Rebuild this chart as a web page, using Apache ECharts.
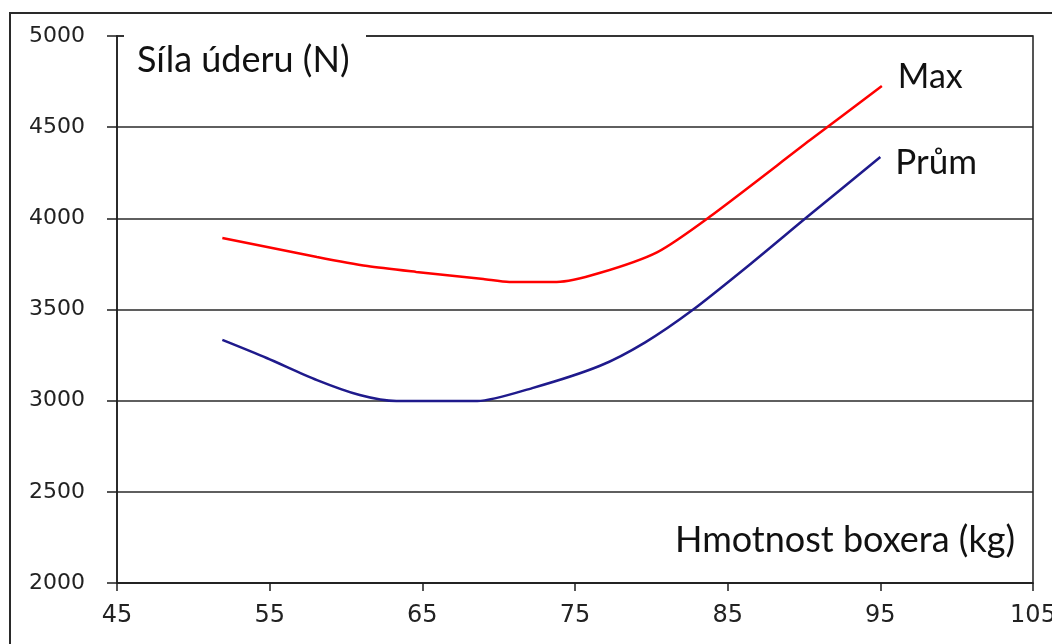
<!DOCTYPE html>
<html>
<head>
<meta charset="utf-8">
<script src="https://cdn.jsdelivr.net/npm/echarts@6/dist/echarts.min.js"></script>
<style>
  html, body { margin: 0; padding: 0; background: #fff; }
  #chart { width: 1052px; height: 644px; }
</style>
</head>
<body>
<div id="chart"></div>
<script>
// Punch force by boxer weight: maximum and average curves
const maxWeight = [51.9, 58.1, 61.4, 64.6, 69.0, 70.7, 73.8, 76.6, 80.4, 83.8, 90.4, 95.1];
const maxForce  = [3892, 3788, 3738, 3706, 3667, 3651, 3651, 3700, 3815, 4007, 4429, 4726];

const avgWeight = [51.9, 54.8, 58.1, 60.9, 63.3, 68.6, 72.2, 76.6, 79.6, 82.7, 86.5, 90.2, 95.0];
const avgForce  = [3333, 3234, 3113, 3031, 2998, 2998, 3069, 3190, 3320, 3497, 3750, 4007, 4336];

const xTicks = [45, 55, 65, 75, 85, 95, 105];
const yTicks = [2000, 2500, 3000, 3500, 4000, 4500, 5000];

const yTitle = 'Síla úderu (N)';
const xTitle = 'Hmotnost boxera (kg)';
const maxName = 'Max';
const avgName = 'Prům';

const pairs = (xs, ys) => xs.map((x, i) => [x, ys[i]]);

const chart = echarts.init(document.getElementById('chart'));

const labelFont = '"Lato", "Open Sans", sans-serif';

chart.setOption({
  animation: false,
  backgroundColor: '#ffffff',
  grid: {
    left: 117, right: 19, top: 36, bottom: 61,
    outerBoundsMode: 'none',
    containLabel: false,
    show: true,
    borderColor: '#1e1e1e',
    borderWidth: 1.5,
    backgroundColor: 'transparent'
  },
  xAxis: {
    type: 'value',
    min: xTicks[0],
    max: xTicks[xTicks.length - 1],
    interval: 10,
    axisLine: { show: true, onZero: false, lineStyle: { color: '#1e1e1e', width: 1.5 } },
    axisTick: { show: true, length: 8, lineStyle: { color: '#1e1e1e', width: 1.5 } },
    splitLine: { show: false },
    axisLabel: {
      margin: 21,
      color: '#222',
      fontSize: 24,
      fontFamily: '"DejaVu Sans", sans-serif',
      formatter: v => String(v),
      showMaxLabel: true,
      showMinLabel: true
    }
  },
  yAxis: {
    type: 'value',
    min: yTicks[0],
    max: yTicks[yTicks.length - 1],
    interval: 500,
    axisLine: { show: true, lineStyle: { color: '#1e1e1e', width: 1.5 } },
    axisTick: { show: true, length: 10, lineStyle: { color: '#1e1e1e', width: 1.5 } },
    splitLine: { show: true, lineStyle: { color: '#2a2a2a', width: 1.5 } },
    axisLabel: {
      margin: 32,
      color: '#222',
      fontSize: 22,
      fontFamily: '"DejaVu Sans", sans-serif',
      formatter: v => String(v)
    }
  },
  series: [
    {
      name: maxName,
      type: 'line',
      data: pairs(maxWeight, maxForce),
      smooth: 0.25,
      showSymbol: false,
      lineStyle: { color: '#ff0000', width: 2.5 },
      itemStyle: { color: '#ff0000' },
      z: 5,
      endLabel: {
        show: true,
        formatter: '{a}',
        distance: 16,
        offset: [0, -9],
        color: '#111',
        fontSize: 34,
        fontFamily: labelFont
      }
    },
    {
      name: avgName,
      type: 'line',
      data: pairs(avgWeight, avgForce),
      smooth: 0.25,
      showSymbol: false,
      lineStyle: { color: '#1f1a8c', width: 2.5 },
      itemStyle: { color: '#1f1a8c' },
      z: 5,
      endLabel: {
        show: true,
        formatter: '{a}',
        distance: 15,
        offset: [0, 6],
        color: '#111',
        fontSize: 35,
        fontFamily: labelFont
      }
    }
  ],
  graphic: [
    // outer frame around the whole figure
    {
      type: 'rect',
      shape: { x: 10, y: 13, width: 1100, height: 700 },
      style: { fill: 'none', stroke: '#2a2a2a', lineWidth: 2 },
      z: 1
    },
    // white box behind the vertical axis title
    {
      type: 'rect',
      shape: { x: 124, y: 28, width: 242, height: 58 },
      style: { fill: '#ffffff' },
      z: 20
    },
    {
      type: 'text',
      x: 137, y: 60,
      style: {
        text: yTitle,
        font: '36px ' + labelFont,
        fill: '#111',
        textVerticalAlign: 'middle'
      },
      z: 21
    },
    {
      type: 'text',
      x: 1015, y: 540,
      style: {
        text: xTitle,
        font: '36px ' + labelFont,
        fill: '#111',
        textAlign: 'right',
        textVerticalAlign: 'middle'
      },
      z: 21
    }
  ]
});
</script>
</body>
</html>
